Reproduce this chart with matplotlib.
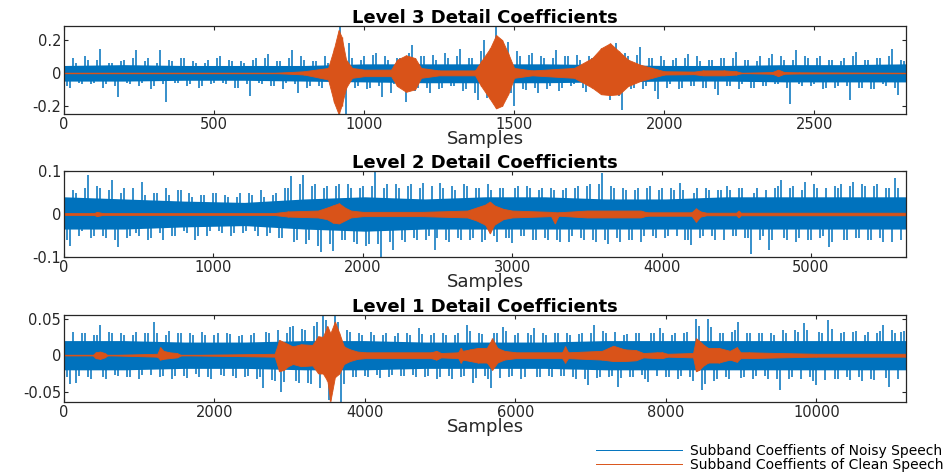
import numpy as np
import matplotlib
matplotlib.use('Agg')
import matplotlib.pyplot as plt
from matplotlib.lines import Line2D

# ---- data ----
# noisy subband coefficients, one value every `step` samples,
# plus the in-between values (offset by half a step)
n_samples = [2806, 5636, 11190]
steps = [20, 40, 80]

noisy3 = [0.07, -0.09, 0.06, -0.07, 0.08, -0.06, 0.147, -0.07, 0.06, -0.145,
          0.08, -0.07, 0.137, -0.06, 0.09, -0.08, 0.137, -0.176, 0.07, -0.06,
          0.09, -0.07, 0.06, -0.08, 0.08, -0.06, 0.10, -0.07, 0.07, -0.09,
          0.06, -0.14, 0.09, -0.07, 0.117, -0.08, 0.07, -0.06, 0.14, -0.12,
          0.08, -0.08, 0.07, -0.09, 0.06, -0.10, 0.28, -0.25, 0.09, -0.08,
          0.10, -0.09, 0.12, -0.145, 0.08, -0.07, 0.09, -0.176, 0.167, -0.09,
          0.10, -0.125, 0.08, -0.09, 0.09, -0.08, 0.147, -0.10, 0.09, -0.165,
          0.20, -0.12, 0.28, -0.15, 0.19, -0.20, 0.10, -0.105, 0.12, -0.125,
          0.09, -0.08, 0.137, -0.09, 0.10, -0.07, 0.08, -0.115, 0.09, -0.10,
          0.11, -0.166, 0.18, -0.226, 0.10, -0.09, 0.157, -0.08, 0.09, -0.16,
          0.08, -0.07, 0.09, -0.09, 0.117, -0.08, 0.07, -0.09, 0.08, -0.135,
          0.09, -0.08, 0.127, -0.07, 0.08, -0.09, 0.10, -0.08, 0.117, -0.07,
          0.08, -0.19, 0.14, -0.08, 0.09, -0.07, 0.10, -0.09, 0.08, -0.08,
          0.09, -0.166, 0.127, -0.09, 0.08, -0.10, 0.09, -0.08, 0.147, -0.135,
          0.07]
noisy3_mid = [-0.08, 0.09, -0.06, 0.10, -0.07, 0.08, -0.09, 0.06, -0.08, 0.07,
              -0.06, 0.09, -0.08, 0.07, -0.10, 0.06, -0.07, 0.08, -0.06, 0.09,
              -0.08, 0.07, -0.09, 0.06, -0.07, 0.09, -0.06, 0.08, -0.09, 0.07,
              -0.07, 0.08, -0.06, 0.09, -0.08, 0.07, -0.10, 0.09, -0.07, 0.10,
              -0.09, 0.07, -0.08, 0.10, -0.07, 0.12, -0.15, 0.18, -0.09, 0.08,
              -0.10, 0.11, -0.08, 0.10, -0.12, 0.09, -0.10, 0.12, -0.11, 0.10,
              -0.09, 0.11, -0.10, 0.12, -0.08, 0.10, -0.11, 0.09, -0.12, 0.13,
              -0.15, 0.16, -0.18, 0.14, -0.12, 0.13, -0.10, 0.11, -0.09, 0.10,
              -0.10, 0.09, -0.11, 0.10, -0.08, 0.11, -0.09, 0.10, -0.10, 0.12,
              -0.12, 0.13, -0.14, 0.12, -0.10, 0.11, -0.10, 0.09, -0.11, 0.10,
              -0.09, 0.08, -0.10, 0.09, -0.08, 0.10, -0.09, 0.08, -0.10, 0.09,
              -0.08, 0.09, -0.10, 0.08, -0.09, 0.07, -0.08, 0.09, -0.07, 0.10,
              -0.09, 0.08, -0.07, 0.10, -0.08, 0.09, -0.10, 0.08, -0.09, 0.07,
              -0.08, 0.10, -0.09, 0.08, -0.10, 0.09, -0.07, 0.10, -0.09, 0.08]

noisy2 = [0.075, -0.075, 0.05, -0.04, 0.09, -0.05, 0.06, -0.055, 0.079, -0.076,
          0.06, -0.05, -0.045, 0.075, -0.06, 0.05, -0.045, 0.06, -0.05, 0.055,
          -0.04, 0.05, -0.06, 0.045, -0.05, 0.05, -0.04, 0.045, -0.05, 0.04,
          -0.045, 0.05, -0.04, 0.055, -0.05, 0.045, -0.055, 0.06, 0.088, -0.06,
          0.09, -0.06, 0.07, -0.088, 0.065, -0.085, 0.07, -0.06, 0.06, -0.07,
          0.065, -0.07, 0.098, -0.1, 0.07, -0.083, 0.06, -0.065, 0.07, -0.06,
          0.071, -0.05, -0.084, 0.071, -0.06, 0.065, -0.055, 0.07, -0.06, 0.06,
          -0.065, 0.07, -0.05, 0.06, -0.055, -0.068, 0.065, -0.05, 0.06, -0.06,
          0.06, -0.06, 0.055, -0.065, 0.06, -0.05, 0.065, -0.06, 0.07, -0.065,
          0.095, -0.07, 0.06, -0.065, 0.055, -0.06, 0.06, -0.05, 0.065, -0.055,
          0.06, -0.05, 0.055, 0.071, -0.06, -0.072, 0.06, -0.05, 0.055, -0.06,
          0.055, 0.064, -0.05, 0.06, -0.055, -0.094, 0.06, -0.05, -0.084, 0.06,
          0.079, -0.06, 0.065, -0.055, 0.075, -0.06, 0.06, -0.05, -0.076, 0.065,
          0.07, -0.06, 0.075, -0.055, 0.065, -0.06, 0.07, -0.065, 0.06, 0.083,
          -0.06]
noisy2_mid = [-0.06, 0.055, -0.05, 0.06, -0.055, 0.065, -0.05, 0.055, -0.06, 0.05,
              -0.055, 0.06, -0.05, 0.045, -0.055, 0.05, -0.06, 0.045, -0.05, 0.055,
              -0.045, 0.04, -0.05, 0.045, -0.04, 0.05, -0.045, 0.04, -0.045, 0.05,
              -0.04, 0.045, -0.05, 0.04, -0.045, 0.05, -0.055, 0.06, -0.065, 0.07,
              -0.07, 0.065, -0.075, 0.06, -0.07, 0.065, -0.06, 0.07, -0.065, 0.06,
              -0.075, 0.065, -0.07, 0.06, -0.065, 0.07, -0.06, 0.065, -0.055, 0.06,
              -0.06, 0.065, -0.055, 0.06, -0.065, 0.055, -0.06, 0.065, -0.055, 0.06,
              -0.06, 0.055, -0.065, 0.06, -0.055, 0.06, -0.05, 0.065, -0.06, 0.055,
              -0.055, 0.06, -0.06, 0.055, -0.065, 0.06, -0.055, 0.065, -0.06, 0.07,
              -0.06, 0.065, -0.055, 0.06, -0.06, 0.055, -0.065, 0.06, -0.05, 0.055,
              -0.055, 0.06, -0.05, 0.055, -0.06, 0.05, -0.055, 0.06, -0.05, 0.055,
              -0.06, 0.055, -0.05, 0.06, -0.055, 0.05, -0.06, 0.055, -0.06, 0.065,
              -0.055, 0.06, -0.065, 0.055, -0.06, 0.07, -0.055, 0.06, -0.065, 0.06,
              -0.06, 0.065, -0.055, 0.07, -0.06, 0.065, -0.055, 0.06, -0.065, 0.06]

noisy1 = [0.04, -0.04, -0.038, 0.03, -0.03, 0.028, 0.041, -0.032, 0.03, -0.028,
          0.028, -0.03, 0.032, -0.027, 0.03, 0.045, -0.03, 0.028, -0.032, 0.03,
          -0.028, 0.03, -0.026, 0.032, -0.03, 0.028, -0.027, 0.03, -0.028, 0.026,
          -0.03, 0.028, -0.032, -0.045, 0.03, -0.035, -0.05, 0.03, 0.04, -0.038,
          0.035, -0.04, 0.046, 0.055, -0.061, 0.055, -0.064, 0.035, -0.03, 0.03,
          -0.028, 0.032, -0.027, 0.028, -0.03, 0.026, -0.028, 0.03, -0.027, 0.037,
          -0.03, 0.028, -0.032, 0.03, -0.028, 0.027, -0.03, 0.041, -0.038, 0.03,
          -0.028, -0.045, 0.03, 0.039, -0.03, 0.028, -0.032, 0.03, 0.037, -0.03,
          0.028, -0.03, 0.03, -0.028, 0.027, -0.032, 0.03, -0.041, 0.041, -0.03,
          0.03, -0.028, -0.043, 0.028, -0.03, 0.03, -0.027, -0.036, 0.03, 0.037,
          -0.03, 0.028, -0.032, 0.03, -0.03, 0.05, -0.047, 0.05, -0.035, 0.03,
          -0.03, 0.032, 0.045, -0.03, 0.03, -0.028, 0.03, -0.032, 0.028, -0.047,
          0.03, -0.03, 0.032, 0.044, -0.03, -0.041, 0.03, 0.048, -0.032, 0.03,
          -0.03, 0.032, -0.03, 0.028, -0.032, 0.03, 0.041, -0.043, 0.03, 0.032,
          -0.03]
noisy1_mid = [-0.03, 0.032, -0.028, 0.03, -0.033, 0.027, -0.03, 0.032, -0.027, 0.03,
              -0.03, 0.028, -0.032, 0.03, -0.027, 0.031, -0.029, 0.033, -0.028, 0.03,
              -0.031, 0.028, -0.03, 0.027, -0.032, 0.03, -0.028, 0.029, -0.031, 0.028,
              -0.029, 0.031, -0.03, 0.032, -0.034, 0.035, -0.036, 0.038, -0.035, 0.036,
              -0.038, 0.04, -0.045, 0.048, -0.05, 0.045, -0.04, 0.032, -0.03, 0.028,
              -0.03, 0.028, -0.031, 0.03, -0.027, 0.031, -0.029, 0.028, -0.03, 0.029,
              -0.028, 0.031, -0.03, 0.028, -0.032, 0.03, -0.028, 0.033, -0.031, 0.029,
              -0.032, 0.03, -0.031, 0.033, -0.029, 0.031, -0.03, 0.028, -0.03, 0.031,
              -0.029, 0.03, -0.028, 0.031, -0.03, 0.029, -0.032, 0.03, -0.031, 0.033,
              -0.03, 0.032, -0.031, 0.029, -0.03, 0.031, -0.033, 0.03, -0.029, 0.031,
              -0.03, 0.031, -0.029, 0.032, -0.035, 0.04, -0.04, 0.038, -0.033, 0.031,
              -0.032, 0.034, -0.031, 0.03, -0.032, 0.03, -0.029, 0.031, -0.033, 0.034,
              -0.033, 0.035, -0.032, 0.034, -0.035, 0.032, -0.034, 0.036, -0.033, 0.032,
              -0.034, 0.033, -0.035, 0.032, -0.034, 0.033, -0.031, 0.034, -0.032, 0.033]

# dense part of the noisy band (evenly spaced over each level)
core3_hi = [0.045, 0.05, 0.045, 0.045, 0.045, 0.055, 0.055, 0.055, 0.055, 0.05, 0.045, 0.045, 0.05, 0.05, 0.055]
core3_lo = [-0.05, -0.05, -0.045, -0.045, -0.05, -0.055, -0.06, -0.06, -0.06, -0.055, -0.05, -0.05, -0.055, -0.055, -0.055]
core2_hi = [0.04, 0.035, 0.03, 0.027, 0.035, 0.04, 0.035, 0.04, 0.04, 0.035, 0.035, 0.04, 0.04, 0.04, 0.04]
core2_lo = [-0.035, -0.035, -0.03, -0.027, -0.035, -0.04, -0.035, -0.035, -0.035, -0.035, -0.035, -0.035, -0.035, -0.035, -0.035]
core1_hi = [0.02, 0.02, 0.018, 0.018, 0.02, 0.02, 0.018, 0.018, 0.018, 0.02, 0.02, 0.02, 0.02, 0.02, 0.02]
core1_lo = [-0.02, -0.02, -0.018, -0.018, -0.02, -0.02, -0.018, -0.018, -0.018, -0.02, -0.02, -0.02, -0.02, -0.02, -0.02]

# clean speech coefficients: envelope (sample, upper, lower)
clean3_pos = [0, 700, 800, 880, 900, 915, 925, 940, 960, 1000, 1090, 1110, 1140, 1170, 1190,
              1250, 1370, 1390, 1420, 1440, 1460, 1480, 1500, 1560, 1700, 1760, 1790, 1820, 1850,
              1880, 1920, 1960, 2000, 2100, 2130, 2200, 2240, 2260, 2360, 2380, 2400, 2450, 2806]
clean3_hi = [0, 0, 0.01, 0.03, 0.15, 0.26, 0.22, 0.08, 0.03, 0.02, 0.02, 0.08, 0.107, 0.09, 0.03,
             0.015, 0.015, 0.07, 0.15, 0.23, 0.2, 0.12, 0.03, 0.015, 0.03, 0.09, 0.15, 0.18, 0.13,
             0.08, 0.05, 0.03, 0.01, 0.008, 0.015, 0.015, 0.01, 0, 0.005, 0.02, 0.005, 0.003, 0]
clean3_lo = [0, 0, -0.01, -0.04, -0.18, -0.25, -0.2, -0.09, -0.03, -0.02, -0.02, -0.08, -0.115, -0.1, -0.03,
             -0.015, -0.015, -0.08, -0.16, -0.216, -0.2, -0.13, -0.03, -0.015, -0.03, -0.09, -0.13, -0.135, -0.13,
             -0.08, -0.05, -0.03, -0.01, -0.008, -0.015, -0.015, -0.01, 0, -0.005, -0.02, -0.005, -0.003, 0]

clean2_pos = [0, 200, 220, 260, 1400, 1500, 1700, 1760, 1800, 1840, 1880, 1920, 2000, 2400, 2700,
              2760, 2820, 2850, 2880, 2940, 3000, 3260, 3285, 3310, 3500, 3860, 3900, 4200, 4230,
              4260, 4300, 4500, 4515, 4530, 5636]
clean2_hi = [0.002, 0.002, 0.005, 0.002, 0.002, 0.006, 0.008, 0.015, 0.02, 0.025, 0.015, 0.008, 0.005, 0.005, 0.008,
             0.015, 0.022, 0.029, 0.02, 0.012, 0.008, 0.005, 0.004, 0.004, 0.008, 0.008, 0.004, 0.004, 0.013,
             0.006, 0.003, 0.003, 0.008, 0.003, 0.003]
clean2_lo = [-0.002, -0.002, -0.005, -0.002, -0.002, -0.006, -0.008, -0.012, -0.02, -0.022, -0.015, -0.008, -0.005, -0.005, -0.008,
             -0.015, -0.025, -0.045, -0.025, -0.012, -0.008, -0.005, -0.022, -0.004, -0.008, -0.008, -0.004, -0.004, -0.018,
             -0.006, -0.003, -0.003, -0.008, -0.003, -0.003]

clean1_pos = [0, 380, 420, 480, 540, 580, 1240, 1280, 1320, 1400, 1500, 1560, 2800, 2860, 2920,
              2980, 3040, 3150, 3300, 3380, 3440, 3500, 3540, 3600, 3660, 3720, 3800, 3900, 4000, 4880,
              4950, 5010, 5240, 5270, 5300, 5400, 5500, 5620, 5690, 5760, 5850, 6000, 6620, 6660, 6700,
              7150, 7300, 7450, 7600, 7700, 7880, 7950, 8020, 8360, 8400, 8440, 8500, 8560, 8700, 8850,
              8940, 8990, 9100, 9500, 10000, 11190]
clean1_hi = [0, 0, 0.004, 0.005, 0.003, 0, 0.002, 0.011, 0.006, 0.004, 0.003, 0, 0.002, 0.021, 0.018,
             0.015, 0.012, 0.015, 0.014, 0.026, 0.025, 0.04, 0.03, 0.046, 0.03, 0.012, 0.008, 0.005, 0.004, 0.004,
             0.006, 0.003, 0.004, 0.01, 0.006, 0.008, 0.01, 0.01, 0.023, 0.01, 0.006, 0.004, 0.004, 0.012, 0.004,
             0.006, 0.013, 0.008, 0.007, 0.003, 0.004, 0.004, 0.002, 0.003, 0.023, 0.02, 0.014, 0.01, 0.01, 0.006,
             0.011, 0.004, 0.004, 0.003, 0.002, 0.002]
clean1_lo = [0, 0, -0.004, -0.005, -0.003, 0, -0.002, -0.006, -0.005, -0.004, -0.003, 0, -0.002, -0.022, -0.02,
             -0.015, -0.012, -0.015, -0.014, -0.025, -0.025, -0.035, -0.063, -0.03, -0.025, -0.012, -0.008, -0.005, -0.004, -0.004,
             -0.006, -0.003, -0.004, -0.01, -0.006, -0.008, -0.01, -0.01, -0.02, -0.01, -0.006, -0.004, -0.004, -0.01, -0.004,
             -0.006, -0.008, -0.008, -0.007, -0.003, -0.004, -0.004, -0.002, -0.003, -0.022, -0.02, -0.014, -0.01, -0.01, -0.006,
             -0.009, -0.004, -0.004, -0.003, -0.002, -0.002]

titles = ['Level 3 Detail Coefficients', 'Level 2 Detail Coefficients', 'Level 1 Detail Coefficients']
yticks = [[-0.2, 0, 0.2], [-0.1, 0, 0.1], [-0.05, 0, 0.05]]
ytick_labels = [['-0.2', '0', '0.2'], ['-0.1', '0', '0.1'], ['-0.05', '0', '0.05']]
xticks = [[0, 500, 1000, 1500, 2000, 2500],
          [0, 1000, 2000, 3000, 4000, 5000],
          [0, 2000, 4000, 6000, 8000, 10000]]
ylims = [(-0.25, 0.285), (-0.1, 0.1), (-0.064, 0.055)]
legend_labels = ['Subband Coeffients of Noisy Speech', 'Subband Coeffients of Clean Speech']

blue = '#0072BD'
orange = '#D95319'
dark = '#262626'

plt.rcParams['font.family'] = 'DejaVu Sans'
plt.rcParams['axes.unicode_minus'] = False

fig = plt.figure(figsize=(9.52, 4.73), dpi=100)
W, H = 952, 473
# axes boxes in pixels: left, top, right, bottom
boxes = [(64, 26, 906, 114), (64, 171, 906, 257), (64, 315, 906, 402)]

noisy = [(noisy3, noisy3_mid), (noisy2, noisy2_mid), (noisy1, noisy1_mid)]
cores = [(core3_lo, core3_hi), (core2_lo, core2_hi), (core1_lo, core1_hi)]
cleans = [(clean3_pos, clean3_lo, clean3_hi), (clean2_pos, clean2_lo, clean2_hi), (clean1_pos, clean1_lo, clean1_hi)]

for k in range(3):
    l, t, r, b = boxes[k]
    ax = fig.add_axes([l / W, 1 - b / H, (r - l) / W, (b - t) / H])
    n = n_samples[k]
    step = steps[k]

    # noisy coefficients: dense core + individual spikes
    lo, hi = cores[k]
    cx = np.linspace(0, n, len(hi))
    ax.fill_between(cx, lo, hi, color=blue, lw=0, zorder=1)
    main, mid = noisy[k]
    xs = np.arange(len(main)) * step
    ax.vlines(xs, 0, main, color=blue, lw=1.1, zorder=2)
    xm = np.arange(len(mid)) * step + step / 2
    ax.vlines(xm, 0, mid, color=blue, lw=1.1, zorder=2)

    # clean coefficients on top
    pos, clo, chi = cleans[k]
    ax.fill_between(pos, clo, chi, color=orange, lw=0.6, edgecolor=orange, zorder=3)
    ax.vlines(pos, clo, chi, color=orange, lw=1.0, zorder=3)
    ax.axhline(0, color=orange, lw=1.0, zorder=3)

    ax.set_xlim(0, n)
    ax.set_ylim(*ylims[k])
    ax.set_xticks(xticks[k])
    ax.set_xticklabels([str(v) for v in xticks[k]])
    ax.set_yticks(yticks[k])
    ax.set_yticklabels(ytick_labels[k])
    ax.tick_params(direction='in', length=3, width=0.8, top=True, right=True,
                   labelsize=10.5, colors=dark, pad=2)
    for s in ax.spines.values():
        s.set_color(dark)
        s.set_linewidth(0.9)
        s.set_zorder(4)
    ax.set_title(titles[k], fontsize=13, fontweight='bold', pad=2)
    ax.set_xlabel('Samples', fontsize=13, color=dark, labelpad=-1)

handles = [Line2D([], [], color=blue, lw=0.7), Line2D([], [], color=orange, lw=0.7)]
fig.legend(handles, legend_labels, loc='lower right', bbox_to_anchor=(944 / W, 1 / H),
           frameon=False, fontsize=10, handlelength=6.2, handletextpad=0.6,
           labelspacing=0.0, borderpad=0, borderaxespad=0, labelcolor='black')

fig.savefig('out.png', dpi=100)
